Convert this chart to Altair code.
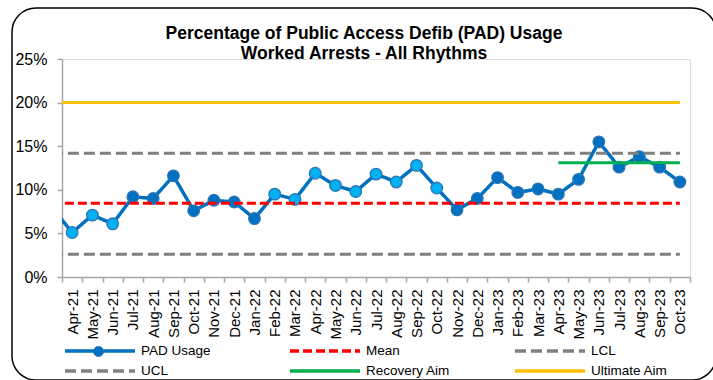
import altair as alt
import pandas as pd

# ---- data ----
# "Mar-21" lies just left of the visible axis; only its line stub shows.
months = ["Mar-21", "Apr-21", "May-21", "Jun-21", "Jul-21", "Aug-21", "Sep-21", "Oct-21",
          "Nov-21", "Dec-21", "Jan-22", "Feb-22", "Mar-22", "Apr-22", "May-22",
          "Jun-22", "Jul-22", "Aug-22", "Sep-22", "Oct-22", "Nov-22", "Dec-22",
          "Jan-23", "Feb-23", "Mar-23", "Apr-23", "May-23", "Jun-23", "Jul-23",
          "Aug-23", "Sep-23", "Oct-23"]
pad_usage = [8.0, 5.1, 7.1, 6.1, 9.2, 9.0, 11.6, 7.6, 8.8, 8.6, 6.7, 9.5, 8.9, 11.9,
             10.5, 9.8, 11.8, 10.9, 12.8, 10.2, 7.7, 9.0, 11.4, 9.7, 10.1, 9.5,
             11.2, 15.5, 12.6, 13.8, 12.6, 10.9]
# point shading (light = highlighted run)
point_tone = ["dark", "light", "light", "light", "dark", "dark", "dark", "dark", "dark",
              "dark", "dark", "light", "light", "light", "light", "light", "light",
              "light", "light", "light", "dark", "dark", "dark", "dark", "dark",
              "dark", "dark", "dark", "dark", "dark", "dark", "dark"]
mean_value = 8.45
lcl_value = 2.6
ucl_value = 14.2
recovery_aim = 13.1
recovery_start = "Apr-23"
ultimate_aim = 20.0

visible = months[1:]
y_ticks = [0, 5, 10, 15, 20, 25]

series = ["PAD Usage", "Mean", "LCL", "UCL", "Recovery Aim", "Ultimate Aim"]
series_colors = ["#0070C0", "#FF0000", "#808080", "#808080", "#00B050", "#FFC000"]
series_dash = [[1, 0], [9, 4], [11, 5], [11, 5], [1, 0], [1, 0]]

# ---- tables ----
idx = {m: i - 1 for i, m in enumerate(months)}
pad_df = pd.DataFrame({"month": months, "i": [idx[m] for m in months],
                       "value": pad_usage, "tone": point_tone, "series": "PAD Usage",
                       "marker": "PAD marker"})
pts_df = pad_df[pad_df["month"] != "Mar-21"]

ref_rows = []
for name, val, start in [("Ultimate Aim", ultimate_aim, months[0]),
                         ("UCL", ucl_value, months[0]),
                         ("LCL", lcl_value, months[0]),
                         ("Mean", mean_value, months[0]),
                         ("Recovery Aim", recovery_aim, recovery_start)]:
    ref_rows.append({"series": name, "i": idx[start], "value": val})
    ref_rows.append({"series": name, "i": idx[months[-1]], "value": val})
ref_df = pd.DataFrame(ref_rows)

n = len(visible)
W, H = 628, 218
label_js = "[" + ",".join("'" + m + "'" for m in visible) + "]"

x_scale = alt.Scale(domain=[-0.5, n - 0.5], nice=False, zero=False)
y_scale = alt.Scale(domain=[0, 25], nice=False)

x_axis = alt.Axis(values=[k - 0.5 for k in range(n + 1)],
                  labelExpr=f"datum.value < {n - 1} ? {label_js}[round(datum.value + 0.5)] : ''",
                  labelOffset=W / n / 2, labelAngle=-90, labelAlign="right",
                  labelBaseline="middle", labelPadding=7, labelFontSize=15,
                  labelColor="#000000", labelFont="Liberation Sans",
                  labelOverlap=False, labelFlush=False, labelBound=False,
                  labelSeparation=0,
                  tickSize=5, tickColor="#A6A6A6", tickWidth=1.5,
                  domainColor="#A6A6A6", domainWidth=1.5, grid=False, title=None)
y_axis = alt.Axis(values=y_ticks, labelExpr="datum.value + '%'", labelFontSize=16,
                  labelColor="#000000", labelFont="Liberation Sans", labelPadding=10,
                  tickSize=5, tickColor="#A6A6A6", tickWidth=1.5,
                  domainColor="#A6A6A6", domainWidth=1.5, grid=False, title=None)

legend = alt.Legend(
    title=None, orient="none", legendX=1, legendY=284, columns=3, direction="horizontal",
    gridAlign="all", columnPadding=62, rowPadding=4, clipHeight=16, symbolSize=4900,
    symbolStrokeWidth=3.5, symbolType="stroke", labelFontSize=13.5,
    labelFont="Liberation Sans", labelColor="#000000", symbolOffset=0, labelOffset=4,
    padding=0)

stroke_enc = alt.Stroke("series:N", scale=alt.Scale(domain=series, range=series_colors),
                        legend=legend)
dash_enc = alt.StrokeDash("series:N", scale=alt.Scale(domain=series, range=series_dash),
                          legend=legend)

# circle marker that sits on the PAD Usage legend line
marker_legend = alt.Legend(
    title=None, orient="none", legendX=31, legendY=287, symbolType="circle",
    symbolSize=100, symbolFillColor="#0070C0", symbolStrokeColor="#2E75B6",
    symbolStrokeWidth=1, labelFontSize=1, labelOpacity=0, labelOffset=0,
    symbolOffset=0, padding=0)

frame = alt.Chart(alt.Data(values=[{}])).mark_rect(
    filled=False, stroke="#000000", strokeWidth=1.5, cornerRadius=24, clip=False
).encode(x=alt.value(-50), x2=alt.value(654), y=alt.value(-51), y2=alt.value(321))

X = alt.X("i:Q", scale=x_scale, axis=x_axis)
Y = alt.Y("value:Q", scale=y_scale, axis=y_axis)

pad_line = alt.Chart(pad_df).mark_line(strokeWidth=3.5, clip=True).encode(
    x=X, y=Y, stroke=stroke_enc, strokeDash=dash_enc, order="i:Q")

pad_pts = alt.Chart(pts_df).mark_point(filled=True, size=135, opacity=1,
                                       stroke="#2E75B6", strokeWidth=1.3).encode(
    x=X, y=Y,
    fill=alt.Fill("tone:N", scale=alt.Scale(domain=["dark", "light"],
                                            range=["#0070C0", "#00B0F0"]), legend=None),
    shape=alt.Shape("marker:N", scale=alt.Scale(domain=["PAD marker"], range=["circle"]),
                    legend=marker_legend))

ref_lines = alt.Chart(ref_df).mark_line(strokeWidth=3, clip=True).encode(
    x=X, y=Y, stroke=stroke_enc, strokeDash=dash_enc, detail="series:N")

chart = alt.layer(frame, pad_line, pad_pts, ref_lines).properties(
    width=W, height=H,
    title=alt.Title(["Percentage of Public Access Defib (PAD) Usage",
                     "Worked Arrests - All Rhythms"],
                    font="Liberation Sans", fontSize=17.5, fontWeight="bold",
                    color="#000000", anchor="middle", frame="group", dx=-12, dy=59,
                    offset=4, lineHeight=20),
    padding={"left": 62, "top": 59, "right": 23, "bottom": 103},
    autosize=alt.AutoSizeParams(type="none"),
).configure_view(strokeWidth=0).configure(background="white").configure_axis(
    labelOverlap=False)

chart.save("out.html", embed_options={"renderer": "svg", "actions": False})
